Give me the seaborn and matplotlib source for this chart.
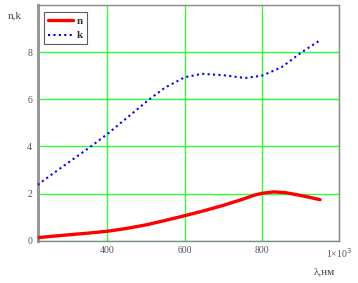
import matplotlib
matplotlib.use("Agg")
import matplotlib.pyplot as plt
import seaborn as sns
import pandas as pd

# Data
wl_n = [220, 260, 300, 350, 400, 450, 500, 550, 600, 650, 700, 750, 780, 800, 830, 860, 890, 920, 950]
n_vals = [0.13, 0.19, 0.25, 0.32, 0.40, 0.52, 0.67, 0.86, 1.06, 1.27, 1.50, 1.76, 1.93, 2.01, 2.07, 2.04, 1.95, 1.85, 1.74]

wl_k = [220, 260, 300, 358, 400, 450, 509, 550, 600, 645, 700, 756, 800, 850, 903, 948]
k_vals = [2.37, 2.85, 3.32, 4.00, 4.52, 5.20, 6.00, 6.50, 6.93, 7.08, 7.02, 6.90, 7.00, 7.35, 8.00, 8.48]

x_ticks = [400, 600, 800, 1000]
x_tick_labels = ["400", "600", "800", "1×10$^3$"]
y_ticks = [0, 2, 4, 6, 8]

df_n = pd.DataFrame({"wl": wl_n, "val": n_vals})
df_k = pd.DataFrame({"wl": wl_k, "val": k_vals})

sns.set_style("white")
plt.rcParams["font.family"] = ["Liberation Serif", "DejaVu Serif"]

fig = plt.figure(figsize=(3.58, 2.83), dpi=100)
ax = fig.add_axes([0.105, 0.1495, 0.843, 0.833])

sns.lineplot(data=df_n, x="wl", y="val", ax=ax, color="#ff0000", lw=2.4,
             label="n", sort=False, zorder=3)
sns.lineplot(data=df_k, x="wl", y="val", ax=ax, color="#0000ff", lw=1.5,
             linestyle=(0, (1, 1.6)), label="k", sort=False, zorder=3)

ax.set_xlim(220, 1000)
ax.set_ylim(0, 10)
ax.set_xticks(x_ticks)
ax.set_xticklabels(x_tick_labels)
ax.set_yticks(y_ticks)
ax.set_axisbelow(True)
ax.grid(True, color="#33ff33", lw=1.0)
ax.tick_params(length=0, labelsize=7, labelcolor="#555555", pad=4)
ax.set_xlabel("")
ax.set_ylabel("")

for s in ["top", "right", "bottom"]:
    ax.spines[s].set_color("#888888")
    ax.spines[s].set_linewidth(1.0)
ax.spines["left"].set_color("#999999")
ax.spines["left"].set_linewidth(2.2)

leg = ax.legend(loc="upper left", bbox_to_anchor=(0.022, 0.97), frameon=True,
                fancybox=False, edgecolor="#333333", fontsize=8,
                handlelength=2.2, handletextpad=0.4, borderpad=0.35,
                labelspacing=0.45, borderaxespad=0)
leg.get_frame().set_linewidth(0.8)
for t in leg.get_texts():
    t.set_fontweight("bold")
    t.set_color("#333333")

fig.text(0.022, 0.945, "n,k", fontsize=8, color="#444444", ha="left", va="center")
fig.text(0.875, 0.04, "λ,нм", fontsize=8, color="#444444", ha="left", va="center")

fig.savefig("out.png", dpi=100)
